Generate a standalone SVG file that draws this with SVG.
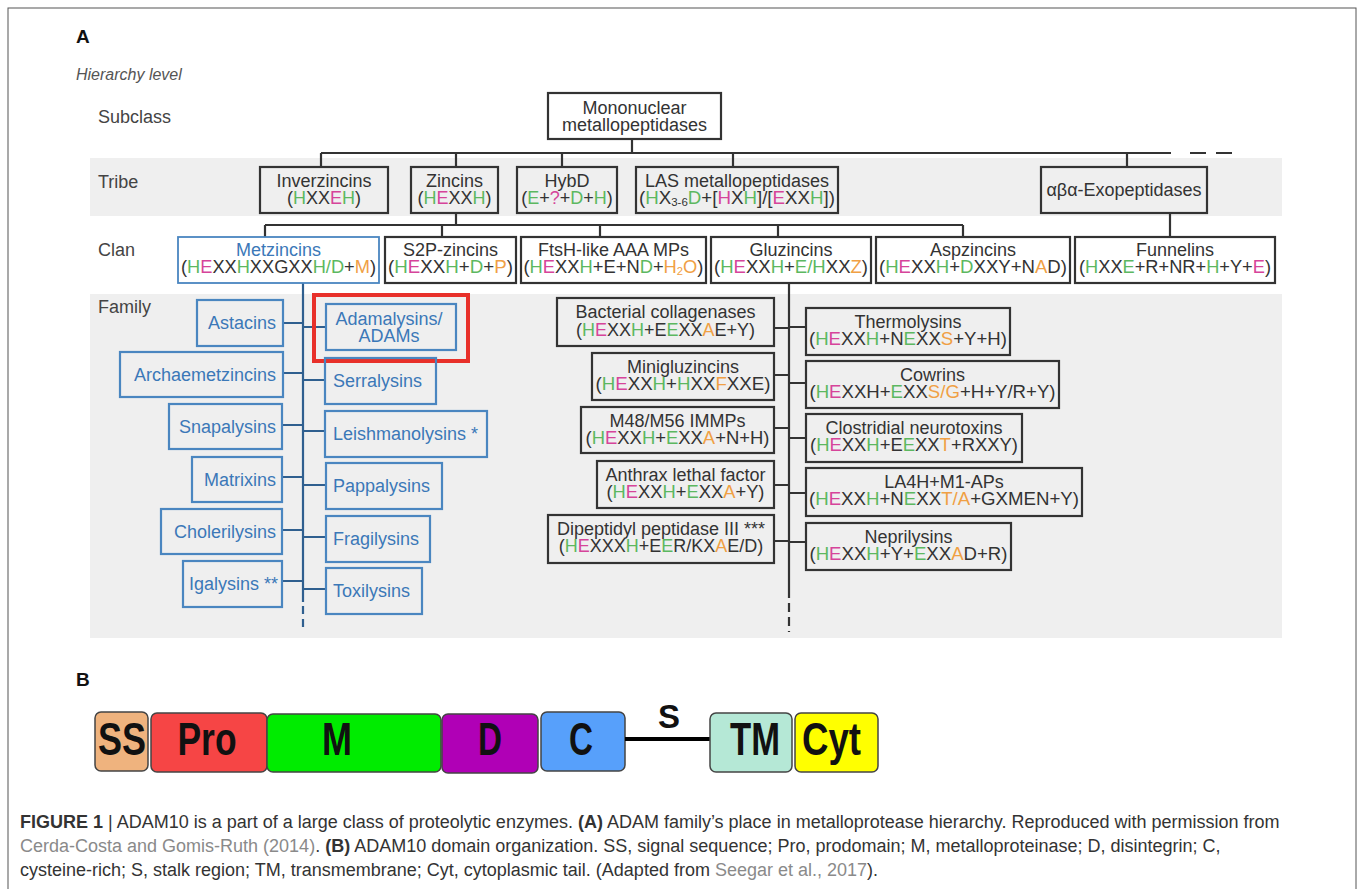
<svg xmlns="http://www.w3.org/2000/svg" width="1358" height="889" viewBox="0 0 1358 889">
<style>
text{font-family:"Liberation Sans",Arial,sans-serif;font-size:18px;fill:#333}
.c{text-anchor:middle}
.e{text-anchor:end}
.g{fill:#5cb860}.p{fill:#d6449a}.o{fill:#f0a044}
.bx{fill:none;stroke:#333;stroke-width:2.2}
.bb{fill:none;stroke:#4a86c0;stroke-width:2.2}
.bt{fill:#3b78b8}
.ln{stroke:#333;stroke-width:2.2;fill:none}
.lb{stroke:#2f5f8f;stroke-width:2.2;fill:none}
.lbl{fill:#444}
.dom{stroke:#444;stroke-width:1.5}
.dt{font-size:47px;font-weight:bold;fill:#111;text-anchor:middle}
.cap{font-size:18px;fill:#333}
.lk{fill:#8a8a8a}
.b{font-weight:bold}
</style>
<rect width="1358" height="889" fill="#fff"/>
<rect x="8" y="8" width="1348" height="900" fill="none" stroke="#555" stroke-width="1"/>
<rect x="90" y="158" width="1192" height="58" fill="#efefef"/>
<rect x="90" y="294" width="1192" height="344" fill="#efefef"/>

<text x="76" y="43" class="b" style="font-size:19px;fill:#111">A</text>
<text x="76" y="80" style="font-style:italic;font-size:16px;fill:#555">Hierarchy level</text>
<text x="98" y="123" class="lbl">Subclass</text>
<text x="98" y="188" class="lbl">Tribe</text>
<text x="98" y="256" class="lbl">Clan</text>
<text x="98" y="313" class="lbl">Family</text>

<g id="connectors">
<path class="ln" d="M632 139V153 M321 153H1171 M321 153V167 M456 153V167 M562 153V167 M733 153V167 M1127 153V167 M456 213V225 M265 225H963 M265 225V237 M442 225V237 M600 225V237 M778 225V237 M963 225V237 M1170 213V237"/>
<path class="ln" d="M1190 153H1206 M1216 153H1232"/>
<path class="lb" d="M303 283V602 M283 323H303 M283 373H303 M282 425H303 M282 477H303 M282 530H303 M282 581H303 M303 327H326 M303 380H325 M303 431H325 M303 485H326 M303 537H326 M303 589H326"/>
<path class="lb" d="M303 606V628" stroke-dasharray="8 5"/>
<path class="ln" d="M789 283V598 M774 328H789 M774 375H789 M774 428H789 M774 485H789 M774 541H789 M789 327H806 M789 383H806 M789 438H806 M789 493H806 M789 542H806"/>
<path class="ln" d="M789 603V632" stroke-dasharray="9 5"/>
</g>

<g id="mononuclear"><rect class="bx" x="548" y="93" width="173" height="46"/><text class="c" x="634.5" y="114">Mononuclear</text><text class="c" x="634.5" y="131">metallopeptidases</text></g>

<g id="inverzincins"><rect class="bx" x="260" y="167" width="128" height="46"/><text class="c" x="324" y="187">Inverzincins</text><text class="c" x="324" y="204">(<tspan class="g">H</tspan>XX<tspan class="p">E</tspan><tspan class="g">H</tspan>)</text></g>
<g id="zincins"><rect class="bx" x="411" y="167" width="87" height="46"/><text class="c" x="454.5" y="187">Zincins</text><text class="c" x="454.5" y="204">(<tspan class="g">H</tspan><tspan class="p">E</tspan>XX<tspan class="g">H</tspan>)</text></g>
<g id="hybd"><rect class="bx" x="517" y="167" width="100" height="46"/><text class="c" x="567" y="187">HybD</text><text class="c" x="567" y="204">(<tspan class="g">E</tspan>+<tspan class="p">?</tspan>+<tspan class="g">D</tspan>+<tspan class="g">H</tspan>)</text></g>
<g id="las"><rect class="bx" x="636" y="167" width="202" height="46"/><text class="c" x="737" y="187">LAS metallopeptidases</text><text class="c" x="737" y="204" textLength="196" lengthAdjust="spacingAndGlyphs">(<tspan class="g">H</tspan>X<tspan style="font-size:11px" dy="2">3-6</tspan><tspan class="g" dy="-2">D</tspan>+[<tspan class="p">H</tspan>X<tspan class="g">H</tspan>]/[<tspan class="p">E</tspan>XX<tspan class="g">H</tspan>])</text></g>
<g id="aba"><rect class="bx" x="1041" y="167" width="166" height="46"/><text class="c" x="1124" y="196">αβα-Exopeptidases</text></g>

<g id="metzincins"><rect class="bb" x="178" y="237" width="201" height="46" style="stroke-width:1.8"/><text class="c bt" x="278.5" y="256">Metzincins</text><text class="c" x="278.5" y="273" textLength="195" lengthAdjust="spacingAndGlyphs">(<tspan class="g">H</tspan><tspan class="p">E</tspan>XX<tspan class="g">H</tspan>XXGXX<tspan class="g">H/D</tspan>+<tspan class="o">M</tspan>)</text></g>
<g id="s2p"><rect class="bx" x="385" y="237" width="131" height="46"/><text class="c" x="450.5" y="256">S2P-zincins</text><text class="c" x="450.5" y="273" textLength="125" lengthAdjust="spacingAndGlyphs">(<tspan class="g">H</tspan><tspan class="p">E</tspan>XX<tspan class="g">H</tspan>+<tspan class="g">D</tspan>+<tspan class="o">P</tspan>)</text></g>
<g id="ftsh"><rect class="bx" x="521" y="237" width="185" height="46"/><text class="c" x="613.5" y="256">FtsH-like AAA MPs</text><text class="c" x="613.5" y="273" textLength="180" lengthAdjust="spacingAndGlyphs">(<tspan class="g">H</tspan><tspan class="p">E</tspan>XX<tspan class="g">H</tspan>+E+N<tspan class="g">D</tspan>+<tspan class="o">H<tspan style="font-size:11px" dy="2">2</tspan><tspan dy="-2">O</tspan></tspan>)</text></g>
<g id="gluzincins"><rect class="bx" x="711" y="237" width="160" height="46"/><text class="c" x="791" y="256">Gluzincins</text><text class="c" x="791" y="273" textLength="154" lengthAdjust="spacingAndGlyphs">(<tspan class="g">H</tspan><tspan class="p">E</tspan>XX<tspan class="g">H</tspan>+<tspan class="g">E/H</tspan>XX<tspan class="o">Z</tspan>)</text></g>
<g id="aspzincins"><rect class="bx" x="876" y="237" width="194" height="46"/><text class="c" x="973" y="256">Aspzincins</text><text class="c" x="973" y="273" textLength="188" lengthAdjust="spacingAndGlyphs">(<tspan class="g">H</tspan><tspan class="p">E</tspan>XX<tspan class="g">H</tspan>+<tspan class="g">D</tspan>XXY+N<tspan class="o">A</tspan>D)</text></g>
<g id="funnelins"><rect class="bx" x="1075" y="237" width="200" height="46"/><text class="c" x="1175" y="256">Funnelins</text><text class="c" x="1175" y="273" textLength="192" lengthAdjust="spacingAndGlyphs">(<tspan class="g">H</tspan>XX<tspan class="g">E</tspan>+R+NR+<tspan class="g">H</tspan>+Y+<tspan class="p">E</tspan>)</text></g>

<g id="astacins"><rect class="bb" x="197" y="300" width="86" height="46"/><text class="e bt" x="276" y="329">Astacins</text></g>
<g id="archaemetzincins"><rect class="bb" x="120" y="352" width="163" height="45"/><text class="e bt" x="276" y="381">Archaemetzincins</text></g>
<g id="snapalysins"><rect class="bb" x="169" y="404" width="113" height="45"/><text class="e bt" x="276" y="433">Snapalysins</text></g>
<g id="matrixins"><rect class="bb" x="192" y="457" width="90" height="45"/><text class="e bt" x="276" y="486">Matrixins</text></g>
<g id="cholerilysins"><rect class="bb" x="161" y="509" width="121" height="45"/><text class="e bt" x="276" y="538">Cholerilysins</text></g>
<g id="igalysins"><rect class="bb" x="183" y="561" width="99" height="46"/><text class="e bt" x="278" y="590">Igalysins **</text></g>

<g id="adamalysins"><rect class="bb" x="326" y="304" width="130" height="46"/><text class="c bt" x="389" y="325">Adamalysins/</text><text class="c bt" x="389" y="342">ADAMs</text><rect x="314" y="295" width="154" height="66" fill="none" stroke="#e8302a" stroke-width="4"/></g>
<g id="serralysins"><rect class="bb" x="325" y="358" width="111" height="46"/><text class="bt" x="333" y="387">Serralysins</text></g>
<g id="leishmanolysins"><rect class="bb" x="325" y="411" width="162" height="46"/><text class="bt" x="333" y="440">Leishmanolysins *</text></g>
<g id="pappalysins"><rect class="bb" x="326" y="463" width="116" height="46"/><text class="bt" x="333" y="492">Pappalysins</text></g>
<g id="fragilysins"><rect class="bb" x="326" y="516" width="104" height="46"/><text class="bt" x="333" y="545">Fragilysins</text></g>
<g id="toxilysins"><rect class="bb" x="326" y="568" width="96" height="46"/><text class="bt" x="333" y="597">Toxilysins</text></g>

<g id="bacterial"><rect class="bx" x="557" y="298" width="217" height="48"/><text class="c" x="665.5" y="318">Bacterial collagenases</text><text class="c" x="665.5" y="336">(<tspan class="g">H</tspan><tspan class="p">E</tspan>XX<tspan class="g">H</tspan>+E<tspan class="g">E</tspan>XX<tspan class="o">A</tspan>E+Y)</text></g>
<g id="minigluzincins"><rect class="bx" x="592" y="353" width="182" height="47"/><text class="c" x="683" y="373">Minigluzincins</text><text class="c" x="683" y="390" textLength="175" lengthAdjust="spacingAndGlyphs">(<tspan class="g">H</tspan><tspan class="p">E</tspan>XX<tspan class="g">H</tspan>+<tspan class="g">H</tspan>XX<tspan class="o">F</tspan>XXE)</text></g>
<g id="m48"><rect class="bx" x="581" y="407" width="193" height="46"/><text class="c" x="677.5" y="427">M48/M56 IMMPs</text><text class="c" x="677.5" y="444" textLength="184" lengthAdjust="spacingAndGlyphs">(<tspan class="g">H</tspan><tspan class="p">E</tspan>XX<tspan class="g">H</tspan>+<tspan class="g">E</tspan>XX<tspan class="o">A</tspan>+N+H)</text></g>
<g id="anthrax"><rect class="bx" x="597" y="461" width="177" height="47"/><text class="c" x="685.5" y="481">Anthrax lethal factor</text><text class="c" x="685.5" y="498" textLength="158" lengthAdjust="spacingAndGlyphs">(<tspan class="g">H</tspan><tspan class="p">E</tspan>XX<tspan class="g">H</tspan>+<tspan class="g">E</tspan>XX<tspan class="o">A</tspan>+Y)</text></g>
<g id="dipeptidyl"><rect class="bx" x="548" y="515" width="226" height="48"/><text class="c" x="661" y="535">Dipeptidyl peptidase III ***</text><text class="c" x="661" y="552">(<tspan class="g">H</tspan><tspan class="p">E</tspan>XXX<tspan class="g">H</tspan>+E<tspan class="g">E</tspan>R/KX<tspan class="o">A</tspan>E/D)</text></g>

<g id="thermolysins"><rect class="bx" x="806" y="308" width="204" height="47"/><text class="c" x="908" y="328">Thermolysins</text><text class="c" x="908" y="345" textLength="198" lengthAdjust="spacingAndGlyphs">(<tspan class="g">H</tspan><tspan class="p">E</tspan>XX<tspan class="g">H</tspan>+N<tspan class="g">E</tspan>XX<tspan class="o">S</tspan>+Y+H)</text></g>
<g id="cowrins"><rect class="bx" x="806" y="361" width="253" height="47"/><text class="c" x="932.5" y="381">Cowrins</text><text class="c" x="932.5" y="398" textLength="246" lengthAdjust="spacingAndGlyphs">(<tspan class="g">H</tspan><tspan class="p">E</tspan>XXH+<tspan class="g">E</tspan>XX<tspan class="o">S/G</tspan>+H+Y/R+Y)</text></g>
<g id="clostridial"><rect class="bx" x="806" y="414" width="216" height="48"/><text class="c" x="914" y="434">Clostridial neurotoxins</text><text class="c" x="914" y="451" textLength="208" lengthAdjust="spacingAndGlyphs">(<tspan class="g">H</tspan><tspan class="p">E</tspan>XX<tspan class="g">H</tspan>+E<tspan class="g">E</tspan>XX<tspan class="o">T</tspan>+RXXY)</text></g>
<g id="la4h"><rect class="bx" x="806" y="468" width="276" height="48"/><text class="c" x="944" y="488">LA4H+M1-APs</text><text class="c" x="944" y="505" textLength="270" lengthAdjust="spacingAndGlyphs">(<tspan class="g">H</tspan><tspan class="p">E</tspan>XX<tspan class="g">H</tspan>+N<tspan class="g">E</tspan>XX<tspan class="o">T/A</tspan>+GXMEN+Y)</text></g>
<g id="neprilysins"><rect class="bx" x="806" y="523" width="205" height="47"/><text class="c" x="908.5" y="543">Neprilysins</text><text class="c" x="908.5" y="560" textLength="198" lengthAdjust="spacingAndGlyphs">(<tspan class="g">H</tspan><tspan class="p">E</tspan>XX<tspan class="g">H</tspan>+Y+<tspan class="g">E</tspan>XX<tspan class="o">A</tspan>D+R)</text></g>

<text x="76" y="686" class="b" style="font-size:19px;fill:#111">B</text>
<g id="domains">
<g id="ss"><rect class="dom" x="95" y="712" width="53" height="59" rx="6" fill="#efb37e"/><text class="dt" x="122" y="755" textLength="48" lengthAdjust="spacingAndGlyphs">SS</text></g>
<g id="pro"><rect class="dom" x="151" y="713" width="116" height="59" rx="6" fill="#f64545"/><text class="dt" x="207" y="755" textLength="59" lengthAdjust="spacingAndGlyphs">Pro</text></g>
<g id="m"><rect class="dom" x="267" y="714" width="174" height="58" rx="6" fill="#00ec00"/><text class="dt" x="337" y="755" textLength="30" lengthAdjust="spacingAndGlyphs">M</text></g>
<g id="d"><rect class="dom" x="442" y="714" width="96" height="59" rx="6" fill="#b000b6"/><text class="dt" x="490" y="755" textLength="24" lengthAdjust="spacingAndGlyphs">D</text></g>
<g id="cdom"><rect class="dom" x="541" y="712" width="84" height="59" rx="6" fill="#57a0fb"/><text class="dt" x="581" y="755" textLength="24" lengthAdjust="spacingAndGlyphs">C</text></g>
<path d="M625 739H711" stroke="#000" stroke-width="4"/>
<text class="dt" x="669" y="728" style="font-size:34px" textLength="22" lengthAdjust="spacingAndGlyphs">S</text>
<g id="tm"><rect class="dom" x="710" y="713" width="82" height="59" rx="6" fill="#b5e8d6"/><text class="dt" x="755" y="755" textLength="50" lengthAdjust="spacingAndGlyphs">TM</text></g>
<g id="cyt"><rect class="dom" x="795" y="713" width="83" height="59" rx="6" fill="#ffff00"/><text class="dt" x="831.5" y="755" textLength="59" lengthAdjust="spacingAndGlyphs">Cyt</text></g>
</g>

<g id="caption">
<text class="cap" x="20" y="828"><tspan class="b">FIGURE 1</tspan> | ADAM10 is a part of a large class of proteolytic enzymes. <tspan class="b">(A)</tspan> ADAM family’s place in metalloprotease hierarchy. Reproduced with permission from</text>
<text class="cap" x="20" y="852"><tspan class="lk">Cerda-Costa and Gomis-Ruth (2014)</tspan>. <tspan class="b">(B)</tspan> ADAM10 domain organization. SS, signal sequence; Pro, prodomain; M, metalloproteinase; D, disintegrin; C,</text>
<text class="cap" x="20" y="876">cysteine-rich; S, stalk region; TM, transmembrane; Cyt, cytoplasmic tail. (Adapted from <tspan class="lk">Seegar et al., 2017</tspan>).</text>
</g>
</svg>
